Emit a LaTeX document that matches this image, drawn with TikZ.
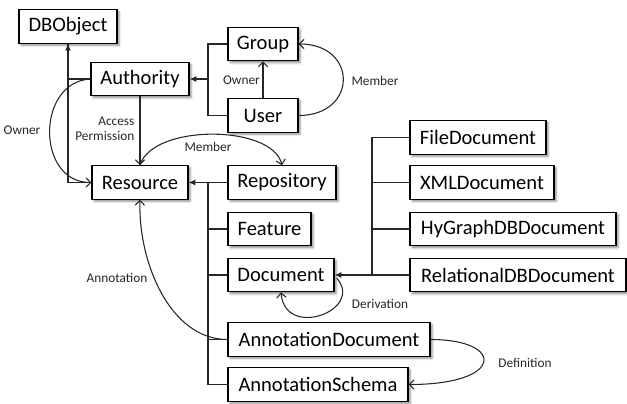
\documentclass[tikz,border=0pt]{standalone}
\usepackage{fontspec}
\setmainfont{Carlito}
\usetikzlibrary{arrows.meta,shadows.blur,calc}

\tikzset{
  box/.style={draw=black, line width=0.9pt, fill=white, minimum height=25pt,
    inner sep=0pt, font=\fontsize{15.4}{18}\selectfont,
    blur shadow={shadow xshift=1.6pt, shadow yshift=-1.6pt,
      shadow blur radius=1.6pt, shadow opacity=45}},
  conn/.style={draw=black!85, line width=0.8pt},
  inh/.style={conn, -{Latex[length=5pt,width=4.5pt]}},
  rel/.style={conn, -{Straight Barb[length=3.5pt,width=7pt]}},
  lbl/.style={font=\fontsize{10}{11.5}\selectfont, text=black!85, inner sep=1pt}
}

\begin{document}
\begin{tikzpicture}[x=0.75pt,y=-0.75pt]
\useasboundingbox (0,0) rectangle (627,403);

% classes
\node[box, minimum width=73.5pt] (DBObject)  at (68,26.5)   {DBObject};
\node[box, minimum width=73.5pt] (Authority) at (140,79)    {Authority};
\node[box, minimum width=52.5pt] (Group)     at (263,44)    {Group};
\node[box, minimum width=52.5pt] (User)      at (263,115.5) {User};
\node[box, minimum width=72pt]   (Resource)  at (140,182.5) {Resource};
\node[box, minimum width=81pt]   (Repository) at (282,182.5) {Repository};
\node[box, minimum width=62.25pt] (Feature)  at (269.5,229) {Feature};
\node[box, minimum width=79.5pt] (Document)  at (281,275)   {Document};
\node[box, minimum width=151.5pt] (AnnDoc)   at (329,339.5) {AnnotationDocument};
\node[box, minimum width=135pt]  (AnnSchema) at (318,384.5) {AnnotationSchema};
\node[box, minimum width=102pt]  (FileDoc)   at (478,137.5) {FileDocument};
\node[box, minimum width=108pt]  (XMLDoc)    at (482,182.5) {XMLDocument};
\node[box, minimum width=154.5pt] (HyDoc)    at (513,229)   {HyGraphDBDocument};
\node[box, minimum width=162pt]  (RelDoc)    at (518,275)   {RelationalDBDocument};

% junction points of the inheritance trees
\coordinate (gu) at (208,79);
\coordinate (rt) at (208,182.5);
\coordinate (dt) at (372,275);

% inheritance: DBObject
\draw[inh] (Authority.west) -| (DBObject.south);
\draw[conn] (Resource.west) -| (DBObject.south);

% inheritance: Authority
\draw[conn] (Group.west) -| (gu);
\draw[conn] (User.west) -| (gu);
\draw[inh] (gu) -- (Authority.east);

% inheritance: Resource
\draw[inh] (Repository.west) -- (Resource.east);
\draw[conn] (Feature.west) -| (rt);
\draw[conn] (Document.west) -| (rt);
\draw[conn] (AnnDoc.west) -| (rt);
\draw[conn] (AnnSchema.west) -| (rt);

% inheritance: Document
\draw[inh] (RelDoc.west) -- (Document.east);
\draw[conn] (FileDoc.west) -| (dt);
\draw[conn] (XMLDoc.west) -| (dt);
\draw[conn] (HyDoc.west) -| (dt);

% associations
\draw[rel] (User.north) -- node[lbl, left=1pt] {Owner} (Group.south);
\draw[rel] (User.east) .. controls (358,115.5) and (358,44) .. (Group.east);
\node[lbl] (lmember1) at (375,81) {Member};

\draw[rel] (Authority.south) -- (Resource.north);
\node[lbl, align=right, anchor=east] (lap) at (136,129) {Access\\Permission};

\draw[rel] (Authority.west) .. controls (36,82) and (36,182.5) .. (Resource.west);
\node[lbl] (lowner) at (22,130) {Owner};

\draw[rel] (Resource.north) .. controls (152,124) and (272,124) .. (Repository.north);
\node[lbl] (lmember2) at (208,147) {Member};

\draw[rel] ($(Document.east)+(2,3)$) .. controls (365,310) and (285,340) .. (Document.south);
\node[lbl] (lderiv) at (380,304) {Derivation};

\draw[rel] (AnnDoc.west) .. controls (170,339.5) and (138,262) .. (Resource.south);
\node[lbl] (lann) at (117,278) {Annotation};

\draw[rel] (AnnDoc.east) .. controls (505,339.5) and (505,384.5) .. (AnnSchema.east);
\node[lbl] (ldef) at (525,363) {Definition};
\end{tikzpicture}
\end{document}
